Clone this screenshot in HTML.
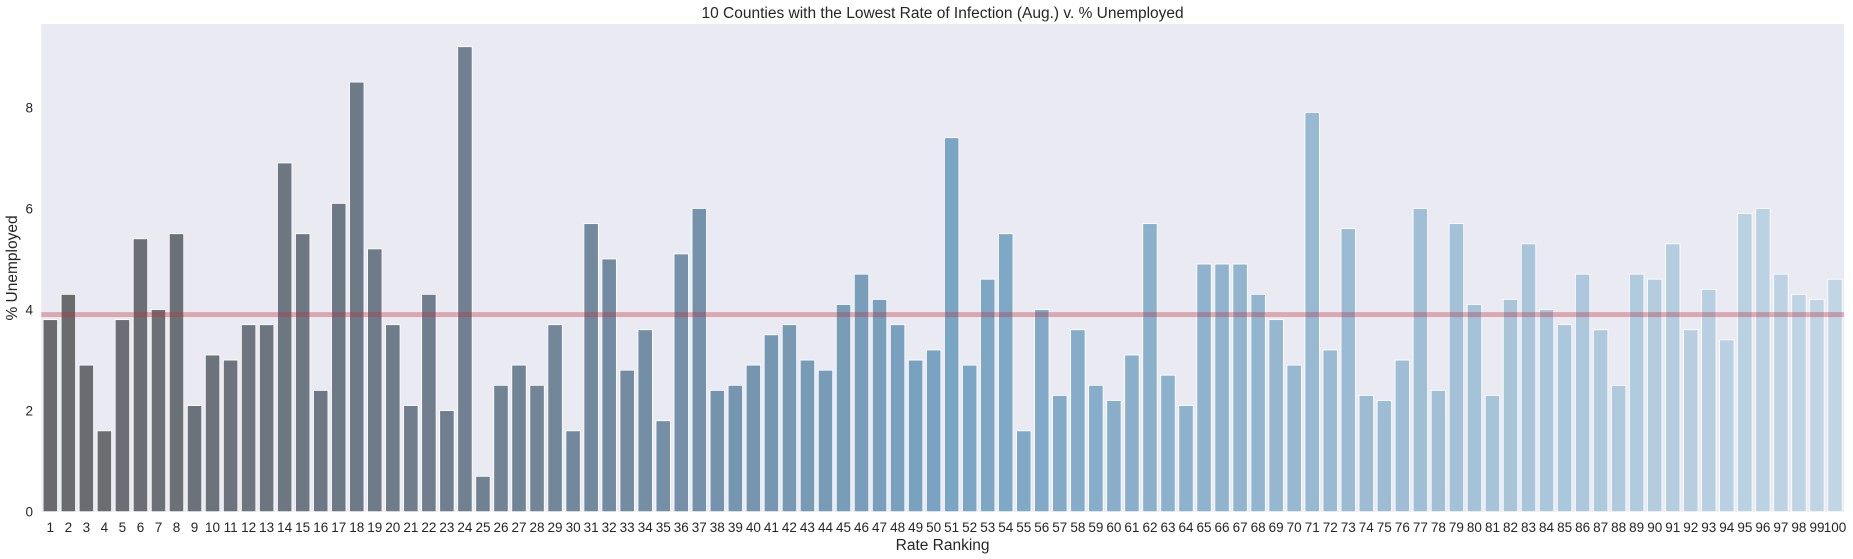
<!DOCTYPE html>
<html><head><meta charset="utf-8"><style>
html,body{margin:0;padding:0;background:#fff;}
svg{display:block;font-family:"Liberation Sans",Arial,sans-serif;}
</style></head><body>
<svg id="chart" width="1853" height="559" viewBox="0 0 1853 559" xmlns="http://www.w3.org/2000/svg">
<rect x="41.3" y="24" width="1802.7" height="487.7" fill="#eaeaf2"/>
<g id="bars"></g>
<g id="yticks"></g>
<g id="xticks"></g>
<rect id="meanline" x="41.3" width="1802.7" height="5" fill="rgba(186,45,60,0.35)"/>
<text x="942.6" y="18" text-anchor="middle" font-size="15.5" fill="#262626">10 Counties with the Lowest Rate of Infection (Aug.) v. % Unemployed</text>
<text x="942.6" y="550" text-anchor="middle" font-size="15.5" fill="#262626">Rate Ranking</text>
<text transform="translate(17,268) rotate(-90)" text-anchor="middle" font-size="15.5" fill="#262626">% Unemployed</text>
</svg>
<script>
const categories = Array.from({length:100},(_,i)=>String(i+1));
const unemployed = [3.8,4.3,2.9,1.6,3.8,5.4,4.0,5.5,2.1,3.1,3.0,3.7,3.7,6.9,5.5,2.4,6.1,8.5,5.2,3.7,2.1,4.3,2.0,9.2,0.7,2.5,2.9,2.5,3.7,1.6,5.7,5.0,2.8,3.6,1.8,5.1,6.0,2.4,2.5,2.9,3.5,3.7,3.0,2.8,4.1,4.7,4.2,3.7,3.0,3.2,7.4,2.9,4.6,5.5,1.6,4.0,2.3,3.6,2.5,2.2,3.1,5.7,2.7,2.1,4.9,4.9,4.9,4.3,3.8,2.9,7.9,3.2,5.6,2.3,2.2,3.0,6.0,2.4,5.7,4.1,2.3,4.2,5.3,4.0,3.7,4.7,3.6,2.5,4.7,4.6,5.3,3.6,4.4,3.4,5.9,6.0,4.7,4.3,4.2,4.6];
const meanValue = 3.9;
const yTickValues = [0,2,4,6,8];

const NS="http://www.w3.org/2000/svg";
const L=41.3,R=1844,T=24,B=511.7,YMAX=9.65;
const band=(R-L)/categories.length;
const xScale=i=>L+band*i;
const yScale=v=>B-(B-T)*v/YMAX;
const stops=[[0,[106,106,110]],[0.23,[112,128,144]],[0.5,[122,164,196]],[1,[193,214,229]]];
function color(t){for(let k=1;k<stops.length;k++){if(t<=stops[k][0]){const a=stops[k-1],b=stops[k];const f=(t-a[0])/(b[0]-a[0]);const c=a[1].map((v,j)=>Math.round(v+(b[1][j]-v)*f));return `rgb(${c})`;}}return 'rgb(193,214,229)';}
const gb=document.getElementById('bars'),gx=document.getElementById('xticks'),gy=document.getElementById('yticks');
unemployed.forEach((v,i)=>{
  const r=document.createElementNS(NS,'rect');
  
  
  const w=band*0.8;
  r.setAttribute('x',xScale(i)+band*0.1);
  r.setAttribute('y',yScale(v));
  r.setAttribute('width',w);
  r.setAttribute('height',B-yScale(v));
  r.setAttribute('fill',color(i/(categories.length-1)));
  r.setAttribute('stroke','#ffffff');
  r.setAttribute('stroke-width','0.8');
  gb.appendChild(r);
  const t=document.createElementNS(NS,'text');
  
  
  t.setAttribute('x',xScale(i)+band/2);
  t.setAttribute('y',532);
  t.setAttribute('text-anchor','middle');
  t.setAttribute('font-size','13.5');
  t.setAttribute('fill','#262626');
  t.textContent=categories[i];
  gx.appendChild(t);
});
yTickValues.forEach(v=>{
  const t=document.createElementNS(NS,'text');
  
  
  t.setAttribute('x',33);
  t.setAttribute('y',yScale(v)+5);
  t.setAttribute('text-anchor','end');
  t.setAttribute('font-size','13.5');
  t.setAttribute('fill','#262626');
  t.textContent=String(v);
  gy.appendChild(t);
});
document.getElementById('meanline').setAttribute('y',yScale(meanValue)-2.5);
</script>
</body></html>
